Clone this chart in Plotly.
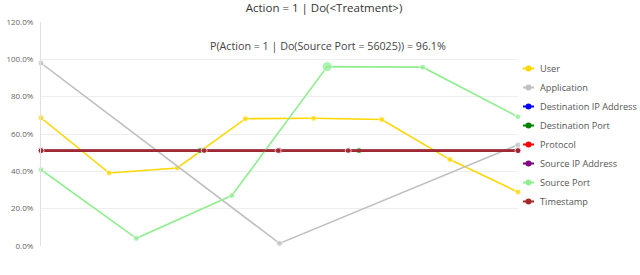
import plotly.graph_objects as go

title_text = "Action = 1 | Do(&lt;Treatment&gt;)"
subtitle_text = "P(Action = 1 | Do(Source Port = 56025)) = 96.1%"

series_names = ["User", "Application", "Destination IP Address", "Destination Port",
                "Protocol", "Source IP Address", "Source Port", "Timestamp"]
series_colors = ["#FFD700", "#C0C0C0", "#0000FF", "#008000",
                 "#FF0000", "#800080", "#90EE90", "#A52A2A"]

user_x = [0, 1/7, 2/7, 3/7, 4/7, 5/7, 6/7, 1]
user_y = [68.7, 39.1, 41.8, 68.2, 68.4, 67.8, 46.3, 28.9]

app_x = [0, 0.5, 1]
app_y = [98.0, 1.4, 54.2]

dip_x = [0, 1]
dip_y = [51.1, 51.1]

dport_x = [0, 1/3, 2/3, 1]
dport_y = [51.1, 51.1, 51.1, 51.1]

proto_x = [0, 1]
proto_y = [51.1, 51.1]

sip_x = [0, 0.5, 1]
sip_y = [51.1, 51.1, 51.1]

sport_x = [0, 0.2, 0.4, 0.6, 0.8, 1]
sport_y = [40.9, 4.1, 27.0, 96.1, 95.8, 69.2]
sport_highlight = 3

ts_x = [0, 0.342, 0.497, 0.644, 1]
ts_y = [51.1, 51.1, 51.1, 51.1, 51.1]

y_ticks = [0, 20, 40, 60, 80, 100, 120]

xs = [user_x, app_x, dip_x, dport_x, proto_x, sip_x, sport_x, ts_x]
ys = [user_y, app_y, dip_y, dport_y, proto_y, sip_y, sport_y, ts_y]

# plot area geometry (pixels)
L, R, T, B = 41, 518, 22, 246
W, H = 640, 275

def px_x(p):
    return (p - L) / (R - L)

def px_y(p):
    return (B - p) / (B - T)

fig = go.Figure()
for name, color, x, y in zip(series_names, series_colors, xs, ys):
    sizes = [6] * len(x)
    if name == "Source Port":
        sizes[sport_highlight] = 10
    width = 2.2 if name == "Timestamp" else 1.6
    fig.add_trace(go.Scatter(
        x=x, y=y, name=name, mode="lines+markers",
        line=dict(color=color, width=width),
        marker=dict(color=color, size=sizes),
        cliponaxis=False, showlegend=False,
    ))

# manual legend (short symbol lines like the reference)
shapes = []
annotations = []
legend_top = 68.5
legend_step = 19.0
for i, (name, color) in enumerate(zip(series_names, series_colors)):
    yc = legend_top + i * legend_step
    shapes.append(dict(type="line", xref="paper", yref="paper",
                       x0=px_x(523), x1=px_x(534), y0=px_y(yc), y1=px_y(yc),
                       line=dict(color=color, width=2)))
    shapes.append(dict(type="circle", xref="paper", yref="paper",
                       x0=px_x(525.5), x1=px_x(531.5), y0=px_y(yc + 3), y1=px_y(yc - 3),
                       fillcolor=color, line=dict(color=color, width=0)))
    annotations.append(dict(text=name, x=px_x(538), y=px_y(yc), xref="paper", yref="paper",
                            xanchor="left", yanchor="middle", showarrow=False,
                            font=dict(size=9.2, color="#555")))

annotations.append(dict(text=subtitle_text, x=px_x(327.5), y=px_y(46), xref="paper", yref="paper",
                        xanchor="center", yanchor="middle", showarrow=False,
                        font=dict(size=10.7, color="#444")))

fig.update_layout(
    width=W, height=H,
    margin=dict(l=L, r=W - R, t=T, b=H - B, pad=0),
    paper_bgcolor="white", plot_bgcolor="white",
    font=dict(family="Open Sans", color="#444"),
    title=dict(text=title_text, x=324 / W, xanchor="center", y=1 - 7.5 / H, yanchor="middle",
               font=dict(size=11.5, color="#333")),
    showlegend=False,
    shapes=shapes,
    annotations=annotations,
)

fig.update_xaxes(range=[0, 1], showgrid=False, showticklabels=False, zeroline=False,
                 showline=False, ticks="", automargin=False)
fig.update_yaxes(range=[0, 120], tickvals=y_ticks, ticktext=[f"{v:.1f}%" for v in y_ticks],
                 showgrid=True, gridcolor="#eeeeee", gridwidth=1, zeroline=False,
                 showline=True, linecolor="#e0e0e0", linewidth=1,
                 ticks="outside", ticklen=5, tickcolor="rgba(0,0,0,0)",
                 tickfont=dict(size=8, color="#666"), automargin=False)

fig.write_html("out.html", post_script="document.body.style.margin='0';",
               config={"displayModeBar": False})
